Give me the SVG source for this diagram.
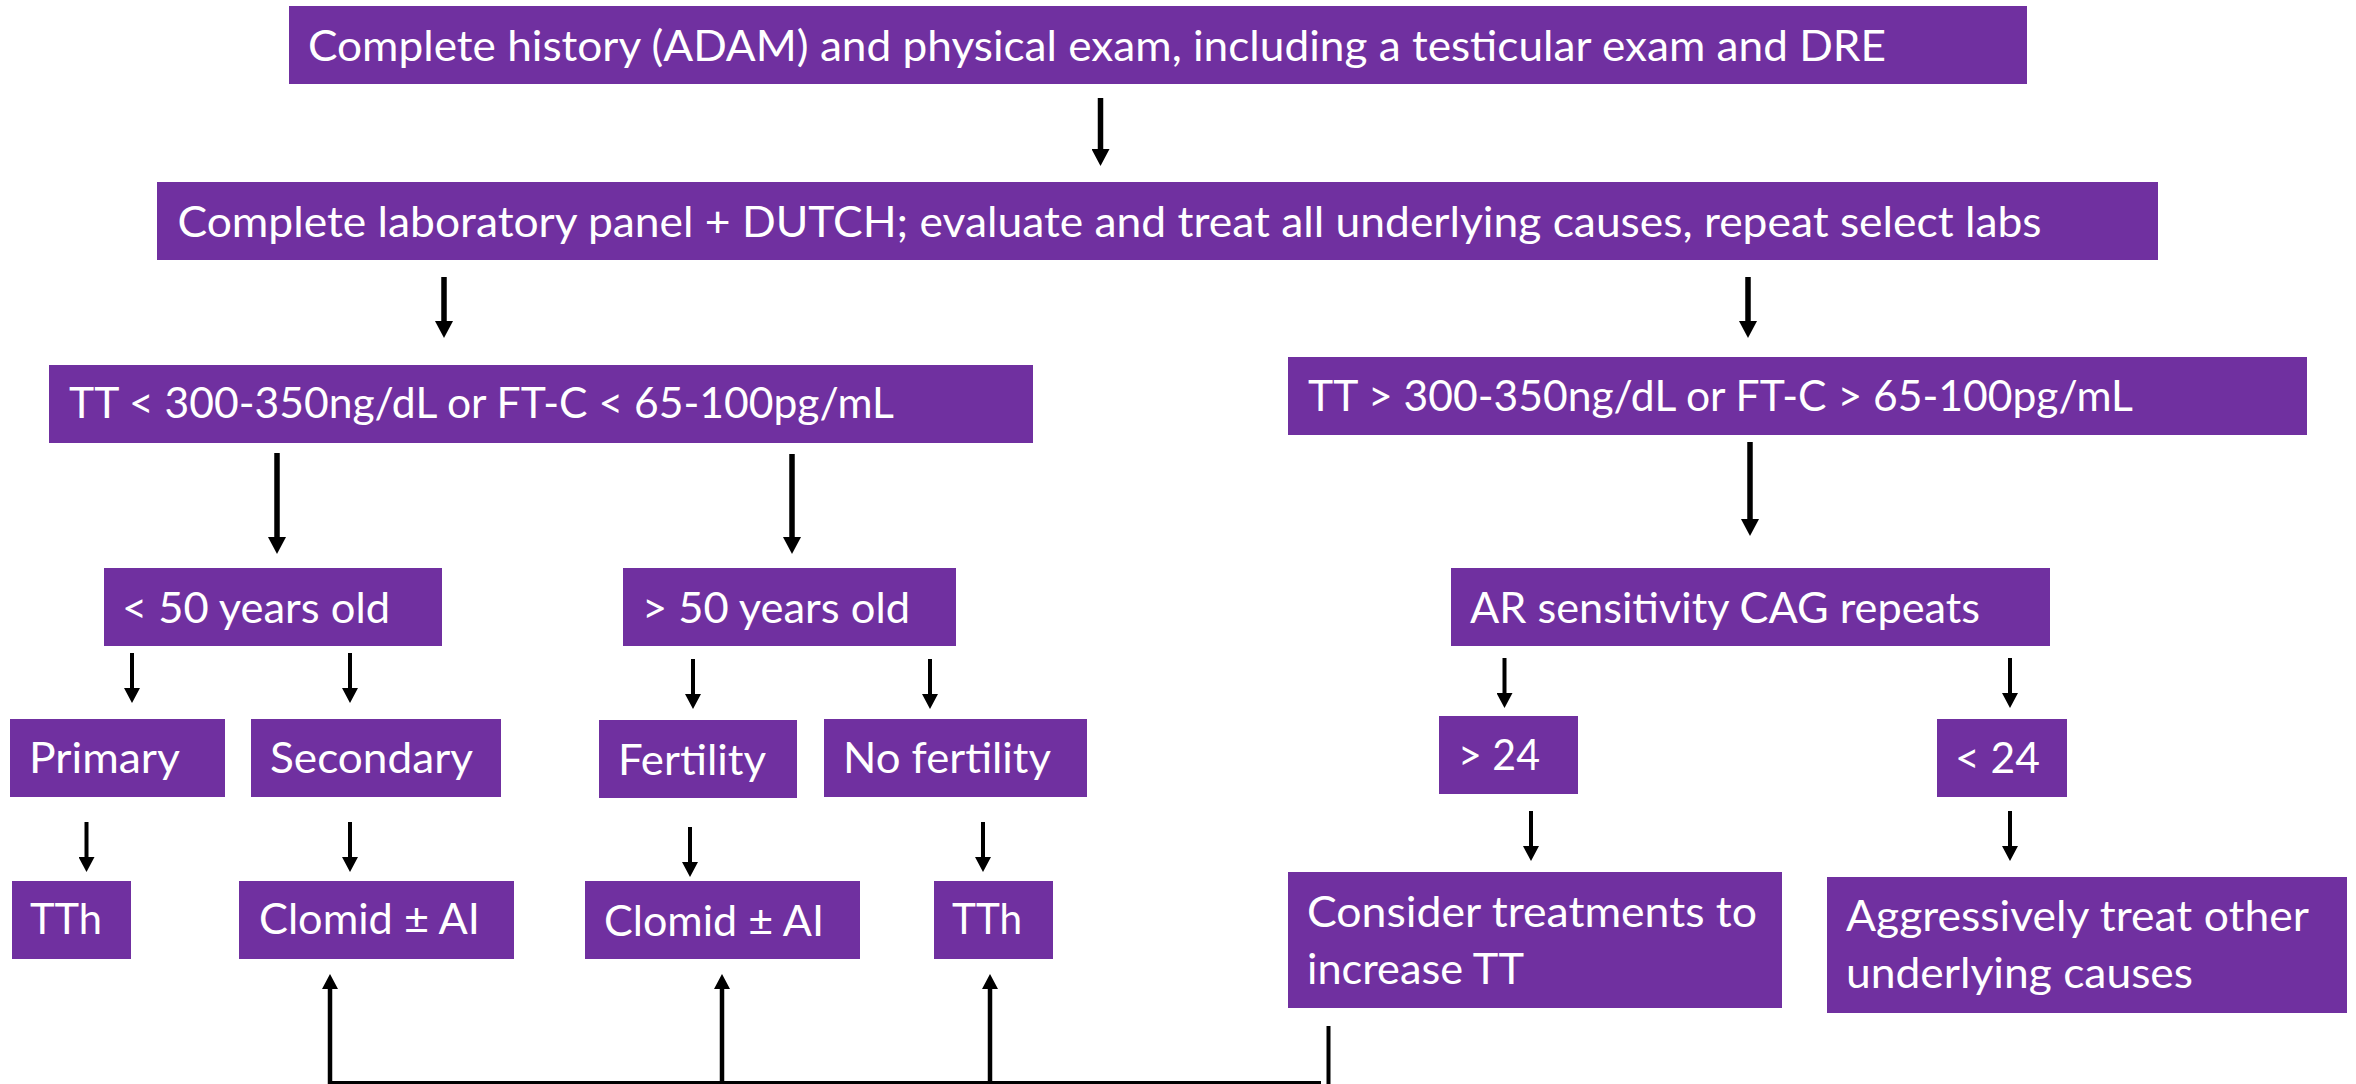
<svg xmlns="http://www.w3.org/2000/svg" width="2356" height="1084" viewBox="0 0 2356 1084">
  <style>
    .box { fill: #7030A0; }
    .lbl { font-family: Lato, "Open Sans", "Liberation Sans", sans-serif; font-size: 43px; fill: #ffffff; }
    .big { fill: none; stroke: #000; stroke-width: 5.5; marker-end: url(#headBig); }
    .small { fill: none; stroke: #000; stroke-width: 4; marker-end: url(#headSmall); }
    .up { fill: none; stroke: #000; stroke-width: 4.5; marker-end: url(#headSmall); }
    .wire { fill: none; stroke: #000; stroke-width: 4; }
  </style>
  <defs>
    <marker id="headBig" markerUnits="userSpaceOnUse" viewBox="0 0 17 18" markerWidth="17" markerHeight="18" refX="4" refY="9" orient="auto">
      <path d="M0,0 L17,9 L0,18 Z" fill="#000"/>
    </marker>
    <marker id="headSmall" markerUnits="userSpaceOnUse" viewBox="0 0 15 16" markerWidth="15" markerHeight="16" refX="4" refY="8" orient="auto">
      <path d="M0,0 L15,8 L0,16 Z" fill="#000"/>
    </marker>
  </defs>
  <rect width="2356" height="1084" fill="#ffffff"/>

  <g id="connectors">
    <!-- main trunk -->
    <line class="big" x1="1100.5" y1="98" x2="1100.5" y2="153"/>
    <line class="big" x1="444" y1="277" x2="444" y2="325"/>
    <line class="big" x1="1748" y1="277" x2="1748" y2="325"/>
    <line class="big" x1="277" y1="453" x2="277" y2="541"/>
    <line class="big" x1="792" y1="454" x2="792" y2="541"/>
    <line class="big" x1="1750" y1="442" x2="1750" y2="523"/>
    <!-- age / CAG branches -->
    <line class="small" x1="132" y1="653" x2="132" y2="692"/>
    <line class="small" x1="350" y1="653" x2="350" y2="692"/>
    <line class="small" x1="693" y1="659" x2="693" y2="698"/>
    <line class="small" x1="930" y1="659" x2="930" y2="698"/>
    <line class="small" x1="1504.5" y1="658" x2="1504.5" y2="697"/>
    <line class="small" x1="2010" y1="658" x2="2010" y2="697"/>
    <!-- to treatments -->
    <line class="small" x1="86.5" y1="822" x2="86.5" y2="861"/>
    <line class="small" x1="350" y1="822" x2="350" y2="861"/>
    <line class="small" x1="690" y1="827" x2="690" y2="866"/>
    <line class="small" x1="983" y1="822" x2="983" y2="861"/>
    <line class="small" x1="1531" y1="811" x2="1531" y2="850"/>
    <line class="small" x1="2010" y1="811" x2="2010" y2="850"/>
    <!-- feedback from "Consider treatments" -->
    <line class="wire" x1="1328.5" y1="1026" x2="1328.5" y2="1084"/>
    <line class="wire" x1="328" y1="1083" x2="1321" y2="1083"/>
    <line class="up" x1="330" y1="1084" x2="330" y2="985"/>
    <line class="up" x1="722" y1="1084" x2="722" y2="985"/>
    <line class="up" x1="990" y1="1084" x2="990" y2="985"/>
  </g>

  <g id="history">
    <rect class="box" x="289" y="6" width="1738" height="78"/>
    <text class="lbl" x="308" y="61" textLength="1578" lengthAdjust="spacingAndGlyphs">Complete history (ADAM) and physical exam, including a testicular exam and DRE</text>
  </g>
  <g id="labs">
    <rect class="box" x="157" y="182" width="2001" height="78"/>
    <text class="lbl" x="177.5" y="237" textLength="1864" lengthAdjust="spacingAndGlyphs">Complete laboratory panel + DUTCH; evaluate and treat all underlying causes, repeat select labs</text>
  </g>
  <g id="tt-low">
    <rect class="box" x="49" y="365" width="984" height="78"/>
    <text class="lbl" x="69" y="418" textLength="825" lengthAdjust="spacingAndGlyphs">TT &lt; 300-350ng/dL or FT-C &lt; 65-100pg/mL</text>
  </g>
  <g id="tt-high">
    <rect class="box" x="1288" y="357" width="1019" height="78"/>
    <text class="lbl" x="1308" y="411" textLength="825" lengthAdjust="spacingAndGlyphs">TT &gt; 300-350ng/dL or FT-C &gt; 65-100pg/mL</text>
  </g>
  <g id="under-50">
    <rect class="box" x="104" y="568" width="338" height="78"/>
    <text class="lbl" x="122" y="623" textLength="268" lengthAdjust="spacingAndGlyphs">&lt; 50 years old</text>
  </g>
  <g id="over-50">
    <rect class="box" x="623" y="568" width="333" height="78"/>
    <text class="lbl" x="642" y="623" textLength="268" lengthAdjust="spacingAndGlyphs">&gt; 50 years old</text>
  </g>
  <g id="ar-cag">
    <rect class="box" x="1451" y="568" width="599" height="78"/>
    <text class="lbl" x="1470" y="623" textLength="510" lengthAdjust="spacingAndGlyphs">AR sensitivity CAG repeats</text>
  </g>
  <g id="primary">
    <rect class="box" x="10" y="719" width="215" height="78"/>
    <text class="lbl" x="29" y="773" textLength="151" lengthAdjust="spacingAndGlyphs">Primary</text>
  </g>
  <g id="secondary">
    <rect class="box" x="251" y="719" width="250" height="78"/>
    <text class="lbl" x="270" y="773" textLength="203" lengthAdjust="spacingAndGlyphs">Secondary</text>
  </g>
  <g id="fertility">
    <rect class="box" x="599" y="720" width="198" height="78"/>
    <text class="lbl" x="618" y="775" textLength="148" lengthAdjust="spacingAndGlyphs">Fertility</text>
  </g>
  <g id="no-fertility">
    <rect class="box" x="824" y="719" width="263" height="78"/>
    <text class="lbl" x="843" y="773" textLength="208" lengthAdjust="spacingAndGlyphs">No fertility</text>
  </g>
  <g id="cag-high">
    <rect class="box" x="1439" y="716" width="139" height="78"/>
    <text class="lbl" x="1458" y="770" textLength="82" lengthAdjust="spacingAndGlyphs">&gt; 24</text>
  </g>
  <g id="cag-low">
    <rect class="box" x="1937" y="719" width="130" height="78"/>
    <text class="lbl" x="1955" y="773" textLength="85" lengthAdjust="spacingAndGlyphs">&lt; 24</text>
  </g>
  <g id="tth-primary">
    <rect class="box" x="12" y="881" width="119" height="78"/>
    <text class="lbl" x="30" y="934" textLength="72" lengthAdjust="spacingAndGlyphs">TTh</text>
  </g>
  <g id="clomid-secondary">
    <rect class="box" x="239" y="881" width="275" height="78"/>
    <text class="lbl" x="259" y="934" textLength="221" lengthAdjust="spacingAndGlyphs">Clomid ± AI</text>
  </g>
  <g id="clomid-fertility">
    <rect class="box" x="585" y="881" width="275" height="78"/>
    <text class="lbl" x="604" y="936" textLength="220" lengthAdjust="spacingAndGlyphs">Clomid ± AI</text>
  </g>
  <g id="tth-no-fertility">
    <rect class="box" x="934" y="881" width="119" height="78"/>
    <text class="lbl" x="952" y="934" textLength="70" lengthAdjust="spacingAndGlyphs">TTh</text>
  </g>
  <g id="increase-tt">
    <rect class="box" x="1288" y="872" width="494" height="136"/>
    <text class="lbl" x="1307" y="927" textLength="450" lengthAdjust="spacingAndGlyphs">Consider treatments to</text>
    <text class="lbl" x="1307" y="984" textLength="217" lengthAdjust="spacingAndGlyphs">increase TT</text>
  </g>
  <g id="treat-other">
    <rect class="box" x="1827" y="877" width="520" height="136"/>
    <text class="lbl" x="1846" y="931" textLength="463" lengthAdjust="spacingAndGlyphs">Aggressively treat other</text>
    <text class="lbl" x="1846" y="988" textLength="347" lengthAdjust="spacingAndGlyphs">underlying causes</text>
  </g>
</svg>
